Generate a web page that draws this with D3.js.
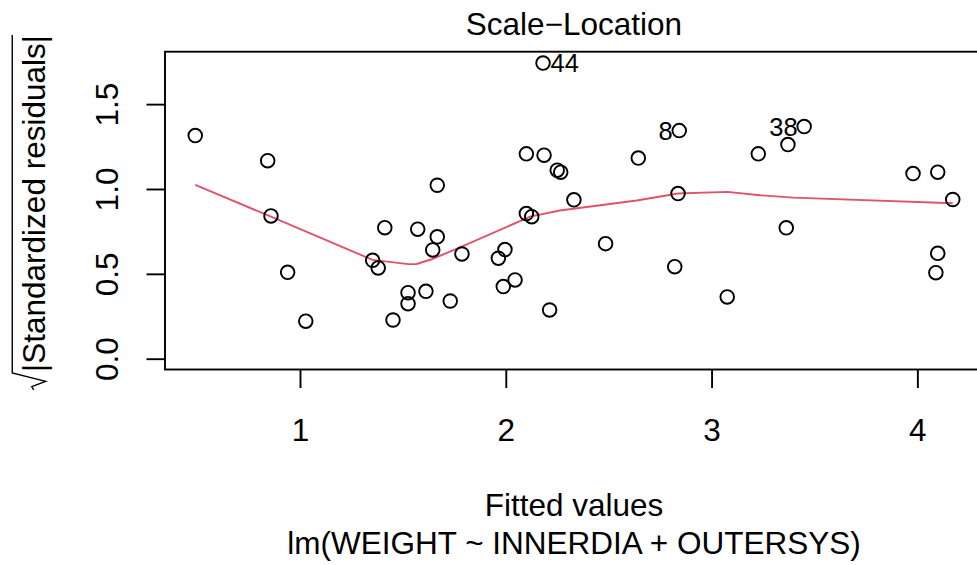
<!DOCTYPE html>
<html>
<head>
<meta charset="utf-8">
<script src="https://cdn.jsdelivr.net/npm/d3@7"></script>
<style>
  html, body { margin: 0; padding: 0; background: #fff; }
  svg { display: block; }
  text { font-family: "Liberation Sans", Arial, Helvetica, sans-serif; fill: #000; }
</style>
</head>
<body>
<svg id="chart" width="977" height="565"></svg>
<script>
// ---- data ----
const fittedValues = [
  0.491, 0.843, 0.859, 0.940, 1.028, 1.353, 1.380, 1.412, 1.452, 1.525,
  1.525, 1.572, 1.612, 1.645, 1.667, 1.667, 1.730, 1.787, 1.964, 1.996,
  1.988, 2.045, 2.100, 2.186, 2.100, 2.126, 2.213, 2.250, 2.267, 2.181,
  2.331, 2.644, 2.485, 2.843, 2.837, 2.821, 3.076, 3.227, 3.371, 3.450,
  3.363, 3.979, 4.099, 4.172, 4.099, 4.090
];
const sqrtAbsStdResid = [
  1.315, 1.167, 0.841, 0.509, 0.221, 0.580, 0.535, 0.772, 0.228, 0.389,
  0.324, 0.763, 0.397, 0.641, 0.718, 1.022, 0.340, 0.617, 0.592, 0.643,
  0.425, 0.464, 1.207, 1.199, 0.855, 0.837, 0.287, 1.111, 1.099, 1.742,
  0.936, 1.182, 0.678, 1.344, 0.973, 0.542, 0.364, 1.207, 1.262, 1.368,
  0.771, 1.091, 1.099, 0.938, 0.621, 0.507
];
const idLabels = ["44", "8", "38"];
const idPointIndex = [29, 33, 39];

const smoothX = [0.491, 0.859, 1.353, 1.526, 1.567, 1.640, 1.786, 2.118, 2.263, 2.636, 2.837, 3.076, 3.235, 3.397, 4.172];
const smoothY = [1.024, 0.837, 0.582, 0.557, 0.558, 0.586, 0.660, 0.837, 0.873, 0.932, 0.973, 0.983, 0.963, 0.949, 0.916];

const xTicks = [1, 2, 3, 4];
const yTicks = [0.0, 0.5, 1.0, 1.5];

const titleText = "Scale\u2212Location";
const xLabel = "Fitted values";
const subLabel = "lm(WEIGHT ~ INNERDIA + OUTERSYS)";
const yLabel = "|Standardized residuals|";

// ---- layout ----
const W = 977, H = 565;
const plotLeft = 165, plotRight = 983, plotTop = 51.7, plotBottom = 369.5;
const fs = 31.5, fsId = 25.5, tickLen = 18.5, lw = 1.9;
const red = "#DF536B";

const svg = d3.select("#chart");
svg.append("rect").attr("width", W).attr("height", H).attr("fill", "#fff");

const x = d3.scaleLinear().domain([0.344, 4.319]).range([plotLeft, plotRight]);
const y = d3.scaleLinear().domain([-0.0637, 1.809]).range([plotBottom, plotTop]);

// box
svg.append("rect")
  .attr("x", plotLeft).attr("y", plotTop)
  .attr("width", plotRight - plotLeft).attr("height", plotBottom - plotTop)
  .attr("fill", "none").attr("stroke", "#000").attr("stroke-width", lw);

// x axis
const xAxis = d3.axisBottom(x).tickValues(xTicks).tickFormat(d3.format("d"))
  .tickSize(tickLen).tickPadding(10);
const gx = svg.append("g").attr("transform", `translate(0,${plotBottom})`).call(xAxis);
gx.select(".domain").remove();
gx.selectAll(".tick line").attr("stroke", "#000").attr("stroke-width", lw);
gx.selectAll(".tick text").attr("font-size", fs).attr("dy", null)
  .attr("y", 440.5 - plotBottom).attr("font-family", "Liberation Sans, Arial, sans-serif");

// y axis
const yAxis = d3.axisLeft(y).tickValues(yTicks).tickFormat(d3.format(".1f"))
  .tickSize(tickLen);
const gy = svg.append("g").attr("transform", `translate(${plotLeft},0)`).call(yAxis);
gy.select(".domain").remove();
gy.selectAll(".tick line").attr("stroke", "#000").attr("stroke-width", lw);
gy.selectAll(".tick text")
  .attr("font-size", fs).attr("font-family", "Liberation Sans, Arial, sans-serif")
  .attr("x", null).attr("dy", null)
  .attr("text-anchor", "middle")
  .attr("transform", `translate(${118 - plotLeft},0) rotate(-90)`)
  .attr("y", 0);

// smooth line
const line = d3.line().x((d, i) => x(smoothX[i])).y((d, i) => y(smoothY[i]));
svg.append("path").datum(smoothX)
  .attr("d", line).attr("fill", "none")
  .attr("stroke", red).attr("stroke-width", lw);

// points
svg.append("g").selectAll("circle").data(fittedValues).join("circle")
  .attr("cx", d => x(d))
  .attr("cy", (d, i) => y(sqrtAbsStdResid[i]))
  .attr("r", 6.8)
  .attr("fill", "none").attr("stroke", "#000").attr("stroke-width", lw);

// id labels
const midX = (d3.min(fittedValues) + d3.max(fittedValues)) / 2;
svg.append("g").selectAll("text").data(idLabels).join("text")
  .attr("x", (d, i) => {
    const fx = fittedValues[idPointIndex[i]];
    return x(fx) + (fx < midX ? 7.5 : -6.5);
  })
  .attr("y", (d, i) => y(sqrtAbsStdResid[idPointIndex[i]]) + 0.36 * fsId)
  .attr("text-anchor", (d, i) => fittedValues[idPointIndex[i]] < midX ? "start" : "end")
  .attr("font-size", fsId)
  .text(d => d);

// title and x labels
const cx = (plotLeft + plotRight) / 2;
svg.append("text").attr("x", cx).attr("y", 35).attr("text-anchor", "middle")
  .attr("font-size", fs).text(titleText);
svg.append("text").attr("x", cx).attr("y", 516).attr("text-anchor", "middle")
  .attr("font-size", fs).text(xLabel);
svg.append("text").attr("x", cx).attr("y", 553.5).attr("text-anchor", "middle")
  .attr("font-size", fs).text(subLabel);

// y label: sqrt(|Standardized residuals|)
const gl = svg.append("g").attr("transform", "translate(45,212.5) rotate(-90)");
const ylt = gl.append("text").attr("font-size", fs).attr("x", 0).attr("y", 0).text(yLabel);
const tl = ylt.node().getComputedTextLength();
const rw = 17, gap = 1;
const total = rw + gap + tl;
const u0 = -total / 2;
ylt.attr("x", u0 + rw + gap);
const over = -1.04 * fs;
gl.append("path")
  .attr("d", `M${u0},${-0.36 * fs} L${u0 + 0.2 * rw},${-0.42 * fs} L${u0 + 0.5 * rw},${0.02 * fs} L${u0 + rw},${over} L${u0 + total},${over}`)
  .attr("fill", "none").attr("stroke", "#000").attr("stroke-width", 1.4);
</script>
</body>
</html>
